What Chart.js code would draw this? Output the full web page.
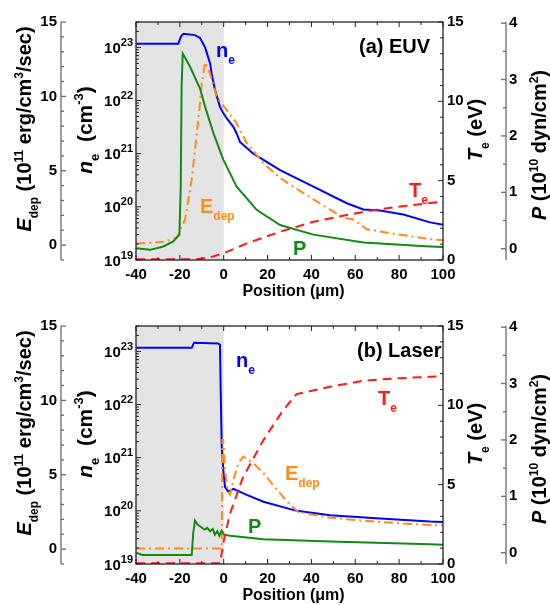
<!DOCTYPE html>
<html><head><meta charset="utf-8">
<script src="https://cdn.jsdelivr.net/npm/chart.js@4.4.1/dist/chart.umd.min.js"></script>
<style>html,body{margin:0;padding:0;background:#fff;}canvas{display:block;}</style>
</head><body>
<canvas id="cA" width="550" height="302"></canvas>
<canvas id="cB" width="550" height="303"></canvas>
<script>
// ---------- tick labels ----------
const xTicks  = [-40, -20, 0, 20, 40, 60, 80, 100];
const eTicks  = [0, 5, 10, 15];
const neTicks = [1e19, 1e20, 1e21, 1e22, 1e23];
const teTicks = [0, 5, 10, 15];
const pTicks  = [0, 1, 2, 3, 4];

// ---------- (a) EUV ----------
const euvNeX = [-40, -20.7, -19.5, -18.4, -13.1, -10.8, -8.5, -6.2, -5.5, -4.0, -1.7, -0.2, 1.4, 4.4, 5.9, 7.4, 13.5, 25.7, 40.9, 56.1, 63.7, 71.3, 81.9, 94.1, 100];
const euvNe  = [1.17e23, 1.17e23, 1.6e23, 1.8e23, 1.7e23, 1.5e23, 1.0e23, 5.0e22, 3.2e22, 1.6e22, 7.6e21, 5.8e21, 4.6e21, 3.2e21, 2.4e21, 1.66e21, 1.0e21, 4.9e20, 2.4e20, 1.17e20, 8.9e19, 8.5e19, 7.2e19, 5.1e19, 4.6e19];
const euvPX  = [-40, -33.6, -27.5, -23, -20.2, -19.6, -19.2, -18.7, -15.4, -10.8, -8.5, -4.7, -0.2, 5.9, 15, 25.7, 40.9, 63.7, 94.1, 100];
const euvP   = [0.01, -0.02, 0.04, 0.13, 0.25, 1.10, 2.87, 3.46, 3.23, 2.84, 2.52, 2.05, 1.58, 1.10, 0.69, 0.42, 0.25, 0.11, 0.04, 0.03];
const euvEX  = [-40, -27.5, -21.4, -17.6, -14.6, -11.6, -10.0, -8.5, -6.2, -3.2, 1.4, 5.9, 10.5, 18.1, 25.7, 40.9, 54.5, 59.1, 65.2, 78.9, 94.1, 100];
const euvE   = [0.1, 0.22, 0.51, 1.73, 4.4, 8.4, 10.85, 12.29, 11.5, 9.95, 9.07, 8.18, 6.85, 5.51, 4.51, 3.07, 1.85, 1.73, 1.07, 0.73, 0.40, 0.33];
const euvTX  = [-40, -21.4, -12.3, -6.2, 0, 10.5, 25.7, 40.9, 56.1, 71.3, 86.5, 100];
const euvT   = [0.04, 0.04, 0.05, 0.17, 0.42, 1.05, 1.78, 2.41, 2.84, 3.21, 3.47, 3.68];

// ---------- (b) Laser ----------
const lasNeX = [-40, -14.6, -13.5, -2.5, -1.7, -1.4, -0.9, -0.2, 0.6, 2.1, 4.4, 10.5, 18.1, 33.3, 48.5, 71.3, 94.1, 100];
const lasNe  = [1.17e23, 1.17e23, 1.45e23, 1.41e23, 1.32e23, 2.1e22, 1.6e21, 5.9e20, 2.8e20, 2.3e20, 2.6e20, 2.0e20, 1.48e20, 1.0e20, 8.3e19, 7.2e19, 6.3e19, 6.2e19];
const lasPX  = [-40, -37, -14.6, -13.9, -13.1, -12, -10.8, -9.5, -8.5, -7.5, -6.2, -5.0, -4.0, -2.9, -2.0, -0.9, 0.1, 2.9, 18.1, 48.5, 94.1, 100];
const lasP   = [0.0, -0.04, -0.04, 0.35, 0.57, 0.50, 0.47, 0.43, 0.41, 0.44, 0.38, 0.42, 0.32, 0.38, 0.30, 0.39, 0.32, 0.30, 0.24, 0.20, 0.15, 0.14];
const lasEX  = [-40, -0.9, -0.6, -0.2, 0.6, 1.6, 2.9, 4.4, 6.7, 8.9, 13.5, 18.1, 24.2, 30.2, 34.0, 48.5, 71.3, 94.1, 100];
const lasE   = [0.05, 0.05, 7.33, 7.33, 5.33, 4.0, 3.67, 4.67, 5.78, 6.22, 5.78, 5.11, 4.0, 3.0, 2.49, 2.11, 1.82, 1.62, 1.6];
const lasTX  = [-40, -1.7, 0.1, 2.9, 8.9, 18.1, 27.1, 33.2, 48.5, 63.7, 78.9, 94.1, 100];
const lasT   = [0.04, 0.04, 1.51, 3.19, 5.5, 7.81, 9.70, 10.71, 11.17, 11.55, 11.7, 11.8, 11.85];

const FAM = '"Liberation Sans", Arial, sans-serif';
const BLUE = '#0000ff', GREEN = '#138a13', ORANGE = '#ff8c1a', RED = '#ff1a1a';

function pts(xs, ys) { return xs.map((x, i) => ({x: x, y: ys[i]})); }

function drawRich(ctx, segs, x, y, o) {
  const S = o.size || 20, s = o.small || Math.round(S * 0.62);
  const fontOf = st => st === 'sub' || st === 'sup' ? `bold ${s}px ${FAM}` :
                       st === 'i' ? `italic bold ${S}px ${FAM}` : `bold ${S}px ${FAM}`;
  ctx.save();
  ctx.translate(x, y);
  if (o.rotate) ctx.rotate(-Math.PI / 2);
  ctx.fillStyle = o.color || '#000';
  ctx.textBaseline = 'alphabetic';
  ctx.textAlign = 'left';
  let total = 0;
  const ws = segs.map(sg => { ctx.font = fontOf(sg[1]); const w = ctx.measureText(sg[0]).width; total += w; return w; });
  let cx = o.align === 'center' ? -total / 2 : o.align === 'right' ? -total : 0;
  const supDy = o.supDy !== undefined ? o.supDy : -S * 0.42;
  segs.forEach((sg, i) => {
    ctx.font = fontOf(sg[1]);
    const dy = sg[1] === 'sub' ? S * 0.33 : sg[1] === 'sup' ? supDy : 0;
    ctx.fillText(sg[0], cx, dy);
    cx += ws[i];
  });
  ctx.restore();
}

function line(ctx, x1, y1, x2, y2) { ctx.beginPath(); ctx.moveTo(x1, y1); ctx.lineTo(x2, y2); ctx.stroke(); }

function makeChart(id, ds, xH, labels) {
  const tickFont = {family: FAM, size: 15, weight: 'bold'};
  const frame = {
    id: 'frame',
    beforeDraw(chart) {
      const c = chart.ctx, ca = chart.chartArea, x = chart.scales.x;
      c.save();
      c.fillStyle = '#fff'; c.fillRect(0, 0, chart.width, chart.height);
      c.fillStyle = '#e4e4e4';
      const l = x.getPixelForValue(-40), r = x.getPixelForValue(0);
      c.fillRect(l, ca.top, r - l, ca.bottom - ca.top);
      c.restore();
    },
    afterDatasetsDraw(chart) {
      const c = chart.ctx, ca = chart.chartArea, sc = chart.scales;
      c.save();
      c.lineCap = 'butt';
      c.strokeStyle = '#6a6a6a'; c.lineWidth = 1.3;
      const ex = sc.yE.right, px = sc.yP.left;
      line(c, ex, ca.top, ex, ca.bottom);
      line(c, px, ca.top, px, ca.bottom);
      for (let v = -1; v <= 15; v++) { const y = sc.yE.getPixelForValue(v); line(c, ex, y, ex + (v % 5 === 0 ? 5 : 3), y); }
      for (let v = 0; v <= 4; v += 0.5) { const y = sc.yP.getPixelForValue(v); line(c, px, y, px - (v % 1 === 0 ? 5 : 3), y); }
      c.strokeStyle = '#222'; c.lineWidth = 1.3;
      c.strokeRect(ca.left, ca.top, ca.right - ca.left, ca.bottom - ca.top);
      c.lineWidth = 1;
      for (let v = -40; v <= 100; v += 10) {
        const x = sc.x.getPixelForValue(v), L = v % 20 === 0 ? 5 : 3;
        line(c, x, ca.bottom, x, ca.bottom - L); line(c, x, ca.top, x, ca.top + L);
      }
      for (let e = 19; e <= 23; e++) for (let k = 1; k <= 9; k++) {
        const v = k * Math.pow(10, e); if (v > sc.yN.max) break;
        const y = sc.yN.getPixelForValue(v); line(c, ca.left, y, ca.left + (k === 1 ? 5 : 3), y);
      }
      for (let v = 0; v <= 15; v++) { const y = sc.yT.getPixelForValue(v); line(c, ca.right, y, ca.right - (v % 5 === 0 ? 5 : 3), y); }
      c.restore();
    },
    afterDraw(chart) {
      const c = chart.ctx, ca = chart.chartArea, t = ca.top - 22, sN = chart.scales.yN;
      // log-axis tick labels with real superscripts, placed by the scale
      sN.ticks.forEach(tk => {
        const y = sN.getPixelForValue(tk.value);
        drawRich(c, [['10','n'],[String(Math.round(Math.log10(tk.value))),'sup']], ca.left - 3, y + 5.5,
                 {align: 'right', size: 15, small: 11, supDy: -7});
      });
      drawRich(c, [['E','i'],['dep','sub'],[' (10','n'],['11','sup'],[' erg/cm','n'],['3','sup'],['/sec)','n']], 31, 129 + t, {rotate: true, align: 'center'});
      drawRich(c, [['n','i'],['e','sub'],['  (cm','n'],['-3','sup'],[')','n']], 92, 130 + t, {rotate: true, align: 'center', size: 21});
      drawRich(c, [['T','i'],['e','sub'],[' (eV)','n']], 482, 130 + t, {rotate: true, align: 'center'});
      drawRich(c, [['P','i'],[' (10','n'],['10','sup'],[' dyn/cm','n'],['2','sup'],[')','n']], 546, 145 + t, {rotate: true, align: 'center'});
      drawRich(c, [['Position (μm)','n']], (ca.left + ca.right) / 2 + 4, ca.bottom + 36, {align: 'center', size: 16});
      labels.forEach(L => drawRich(c, L.segs, L.x, L.y + t, {color: L.color, size: 20}));
    }
  };
  const yBase = (w, weight, pos, pad) => ({
    position: pos, weight: weight,
    grid: {display: false, drawTicks: false}, border: {display: false},
    ticks: {font: tickFont, color: '#000', padding: pad, autoSkip: false},
    afterFit: s => { s.width = w; }
  });
  return new Chart(document.getElementById(id), {
    type: 'line',
    data: {datasets: ds},
    options: {
      responsive: false, animation: false, devicePixelRatio: 1,
      layout: {padding: {top: id === 'cA' ? 22 : 24, left: 0, right: 0, bottom: 0}},
      plugins: {legend: {display: false}, tooltip: {enabled: false}},
      elements: {point: {radius: 0}, line: {tension: 0, borderWidth: 2}},
      scales: {
        x: {type: 'linear', min: -40, max: 100,
            grid: {display: false, drawTicks: false}, border: {display: false},
            ticks: {font: tickFont, color: '#000', padding: 6, autoSkip: false},
            afterBuildTicks: s => { s.ticks = xTicks.map(v => ({value: v})); },
            afterFit: s => { s.height = xH; }},
        yE: Object.assign(yBase(61, 2, 'left', 4), {type: 'linear', min: -1, max: 15,
            afterBuildTicks: s => { s.ticks = eTicks.map(v => ({value: v})); }}),
        yN: Object.assign(yBase(75, 1, 'left', 3), {type: 'logarithmic', min: 1e19, max: 3e23,
            afterBuildTicks: s => { s.ticks = neTicks.map(v => ({value: v})); },
            ticks: {display: false, autoSkip: false}}),
        yT: Object.assign(yBase(63, 1, 'right', 4), {type: 'linear', min: 0, max: 15,
            afterBuildTicks: s => { s.ticks = teTicks.map(v => ({value: v})); }}),
        yP: Object.assign(yBase(44, 2, 'right', 3), {type: 'linear', min: -0.2, max: 4.02,
            afterBuildTicks: s => { s.ticks = pTicks.map(v => ({value: v})); }})
      }
    },
    plugins: [frame]
  });
}

function sets(neX, ne, pX, p, eX, e, tX, t) {
  return [
    {data: pts(tX, t), yAxisID: 'yT', borderColor: RED, borderDash: [9, 6], borderWidth: 2, fill: false},
    {data: pts(pX, p), yAxisID: 'yP', borderColor: GREEN, borderWidth: 2, fill: false},
    {data: pts(eX, e), yAxisID: 'yE', borderColor: ORANGE, borderDash: [9, 4, 2, 4], borderWidth: 2, fill: false},
    {data: pts(neX, ne), yAxisID: 'yN', borderColor: BLUE, borderWidth: 2, fill: false}
  ];
}

makeChart('cA', sets(euvNeX, euvNe, euvPX, euvP, euvEX, euvE, euvTX, euvT), 42, [
  {segs: [['n','n'],['e','sub']], x: 216, y: 57, color: BLUE},
  {segs: [['E','n'],['dep','sub']], x: 200, y: 213, color: ORANGE},
  {segs: [['P','n']], x: 293, y: 255, color: GREEN},
  {segs: [['T','n'],['e','sub']], x: 409, y: 197, color: RED},
  {segs: [['(a) EUV','n']], x: 359, y: 53, color: '#000'}
]);
makeChart('cB', sets(lasNeX, lasNe, lasPX, lasP, lasEX, lasE, lasTX, lasT), 41, [
  {segs: [['n','n'],['e','sub']], x: 236, y: 63, color: BLUE},
  {segs: [['E','n'],['dep','sub']], x: 285, y: 176, color: ORANGE},
  {segs: [['P','n']], x: 248, y: 229, color: GREEN},
  {segs: [['T','n'],['e','sub']], x: 378, y: 101, color: RED},
  {segs: [['(b) Laser','n']], x: 357, y: 53, color: '#000'}
]);
</script>
</body></html>
